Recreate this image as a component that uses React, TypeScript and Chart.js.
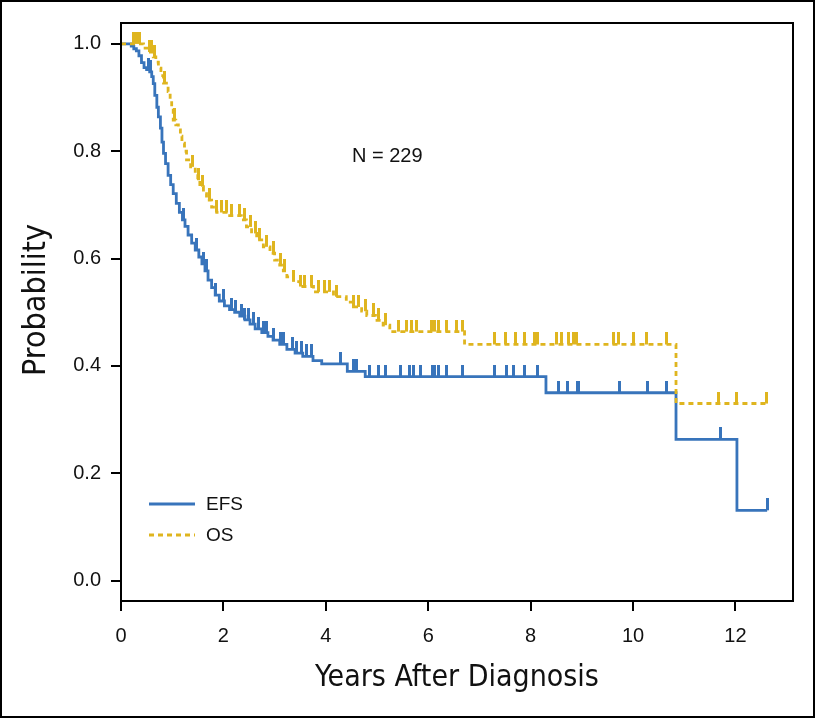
import React, { useEffect, useRef } from "react";
import { Chart, registerables } from "chart.js";

Chart.register(...registerables);

// ---- data ----
const efsTimes = [0, 0.2, 0.25, 0.3, 0.35, 0.4, 0.45, 0.5, 0.56, 0.6, 0.63, 0.66, 0.7, 0.73, 0.77, 0.8, 0.83, 0.87, 0.92, 0.97, 1.02, 1.08, 1.14, 1.2, 1.25, 1.31, 1.38, 1.45, 1.52, 1.58, 1.64, 1.7, 1.77, 1.84, 1.92, 2.02, 2.12, 2.22, 2.32, 2.42, 2.52, 2.62, 2.75, 2.87, 2.97, 3.1, 3.24, 3.4, 3.55, 3.75, 3.92, 4.42, 4.77, 8.3, 10.84, 12.03, 12.62];
const efsSurv = [1.0, 0.996, 0.991, 0.987, 0.978, 0.965, 0.956, 0.952, 0.948, 0.939, 0.926, 0.904, 0.882, 0.864, 0.843, 0.817, 0.796, 0.777, 0.755, 0.738, 0.721, 0.703, 0.686, 0.672, 0.66, 0.644, 0.629, 0.616, 0.603, 0.59, 0.577, 0.56, 0.546, 0.532, 0.521, 0.512, 0.505, 0.5, 0.493, 0.486, 0.478, 0.469, 0.462, 0.455, 0.448, 0.44, 0.431, 0.424, 0.418, 0.41, 0.404, 0.39, 0.38, 0.35, 0.263, 0.131, 0.131];
const efsCensor = [0.53, 0.58, 1.22, 1.48, 1.61, 1.67, 1.84, 2.0, 2.16, 2.23, 2.36, 2.42, 2.49, 2.58, 2.68, 2.78, 2.85, 2.97, 3.11, 3.17, 3.35, 3.43, 3.53, 3.63, 3.72, 4.28, 4.54, 4.6, 4.86, 5.03, 5.16, 5.45, 5.64, 5.71, 5.84, 6.08, 6.13, 6.2, 6.36, 6.67, 7.3, 7.52, 7.66, 7.89, 8.13, 8.54, 8.72, 8.91, 8.93, 9.73, 10.29, 10.66, 11.71, 12.62];

const osTimes = [0, 0.44, 0.53, 0.63, 0.68, 0.73, 0.78, 0.83, 0.92, 0.96, 0.99, 1.02, 1.07, 1.12, 1.16, 1.19, 1.24, 1.28, 1.36, 1.45, 1.5, 1.54, 1.61, 1.67, 1.77, 1.87, 2.08, 2.35, 2.45, 2.55, 2.65, 2.78, 2.91, 3.0, 3.1, 3.17, 3.24, 3.37, 3.5, 3.76, 4.15, 4.4, 4.54, 4.7, 4.8, 4.97, 5.12, 5.25, 6.71, 10.84, 12.61];
const osSurv = [1.0, 0.992, 0.985, 0.976, 0.966, 0.955, 0.941, 0.927, 0.911, 0.897, 0.883, 0.858, 0.849, 0.84, 0.828, 0.815, 0.8, 0.784, 0.771, 0.759, 0.746, 0.734, 0.721, 0.709, 0.696, 0.686, 0.68, 0.672, 0.659, 0.647, 0.635, 0.622, 0.61, 0.597, 0.588, 0.577, 0.566, 0.557, 0.548, 0.538, 0.529, 0.519, 0.51, 0.502, 0.494, 0.485, 0.476, 0.464, 0.44, 0.33, 0.33];
const osCensor = [0.24, 0.31, 0.37, 0.55, 0.6, 0.66, 0.85, 1.05, 1.4, 1.52, 1.6, 1.72, 1.87, 1.97, 2.06, 2.16, 2.32, 2.42, 2.52, 2.62, 2.71, 2.85, 2.97, 3.11, 3.2, 3.37, 3.5, 3.59, 3.72, 3.85, 3.98, 4.08, 4.21, 4.54, 4.63, 4.77, 4.93, 5.03, 5.16, 5.42, 5.58, 5.68, 5.77, 6.07, 6.13, 6.2, 6.36, 6.56, 6.67, 7.3, 7.51, 7.7, 7.89, 8.07, 8.13, 8.51, 8.61, 8.74, 8.83, 8.9, 9.62, 9.71, 10.01, 10.27, 10.66, 11.67, 12.02, 12.61];

const xTicks = [0, 2, 4, 6, 8, 10, 12];
const yTicks = [0, 0.2, 0.4, 0.6, 0.8, 1.0];
const seriesLabels = ["EFS", "OS"];
const xTitle = "Years After Diagnosis";
const yTitle = "Probability";
const noteText = "N = 229";

// ---- styles ----
const BLUE = "#3874bb";
const GOLD = "#dfb51f";
const INK = "#111111";
const SANS = "'Liberation Sans', Arial, Helvetica, sans-serif";
const NARROW = "'Liberation Sans Narrow', 'DejaVu Sans Condensed', 'Liberation Sans', sans-serif";

function survAt(times: number[], surv: number[], t: number): number {
  let s = surv[0];
  for (let i = 0; i < times.length; i++) {
    if (times[i] <= t) s = surv[i];
    else break;
  }
  return s;
}

function makeTick(color: string): HTMLCanvasElement {
  const c = document.createElement("canvas");
  c.width = 3;
  c.height = 24;
  const g = c.getContext("2d")!;
  g.fillStyle = color;
  g.fillRect(0, 0, 3, 12);
  return c;
}

export default function App() {
  const ref = useRef<HTMLCanvasElement | null>(null);

  useEffect(() => {
    document.body.style.margin = "0";
    const canvas = ref.current!;
    const tickBlue = makeTick(BLUE);
    const tickGold = makeTick(GOLD);

    const decor = {
      id: "decor",
      beforeDraw(chart: any) {
        const ctx = chart.ctx;
        ctx.save();
        ctx.fillStyle = "#ffffff";
        ctx.fillRect(0, 0, chart.width, chart.height);
        ctx.strokeStyle = "#000";
        ctx.lineWidth = 2;
        ctx.strokeRect(1, 1, chart.width - 2, chart.height - 2);
        ctx.restore();
      },
      afterDraw(chart: any) {
        const ctx = chart.ctx;
        const a = chart.chartArea;
        const xs = chart.scales.x;
        const ys = chart.scales.y;
        ctx.save();
        // plot frame
        ctx.strokeStyle = "#000";
        ctx.lineWidth = 2;
        ctx.strokeRect(a.left, a.top, a.right - a.left, a.bottom - a.top);
        // y title
        ctx.fillStyle = INK;
        ctx.font = `32px ${NARROW}`;
        ctx.textAlign = "center";
        ctx.textBaseline = "middle";
        ctx.save();
        ctx.translate(37, (a.top + a.bottom) / 2 - 12);
        ctx.rotate(-Math.PI / 2);
        ctx.fillText(yTitle, 0, 0);
        ctx.restore();
        // N label
        ctx.font = `20px ${SANS}`;
        ctx.fillText(noteText, xs.getPixelForValue(5.2), ys.getPixelForValue(0.79));
        // legend
        const lx0 = a.left + 28;
        const lx1 = a.left + 74;
        const ly = [a.top + 481, a.top + 512];
        const cols = [BLUE, GOLD];
        ctx.textAlign = "left";
        ctx.font = `19px ${SANS}`;
        for (let i = 0; i < 2; i++) {
          ctx.strokeStyle = cols[i];
          ctx.lineWidth = 2.8;
          ctx.setLineDash(i === 1 ? [5, 4] : []);
          ctx.beginPath();
          ctx.moveTo(lx0, ly[i]);
          ctx.lineTo(lx1, ly[i]);
          ctx.stroke();
          ctx.setLineDash([]);
          ctx.fillStyle = INK;
          ctx.fillText(seriesLabels[i], a.left + 85, ly[i] + 1);
        }
        ctx.restore();
      },
    };

    const chart = new Chart(canvas, {
      type: "line",
      data: {
        datasets: [
          {
            label: seriesLabels[0],
            data: efsTimes.map((t, i) => ({ x: t, y: efsSurv[i] })),
            borderColor: BLUE,
            borderWidth: 2.8,
            stepped: true,
            pointRadius: 0,
            fill: false,
            order: 4,
          },
          {
            label: seriesLabels[1],
            data: osTimes.map((t, i) => ({ x: t, y: osSurv[i] })),
            borderColor: GOLD,
            borderWidth: 2.8,
            borderDash: [5, 4],
            stepped: true,
            pointRadius: 0,
            fill: false,
            order: 3,
          },
          {
            label: seriesLabels[0] + " censored",
            type: "scatter",
            data: efsCensor.map((t) => ({ x: t, y: survAt(efsTimes, efsSurv, t) })),
            pointStyle: tickBlue,
            pointRadius: 3,
            showLine: false,
            order: 2,
          },
          {
            label: seriesLabels[1] + " censored",
            type: "scatter",
            data: osCensor.map((t) => ({ x: t, y: survAt(osTimes, osSurv, t) })),
            pointStyle: tickGold,
            pointRadius: 3,
            showLine: false,
            order: 1,
          },
        ] as any,
      },
      options: {
        responsive: false,
        animation: false,
        layout: { padding: { top: 23, right: 22, bottom: 0, left: 0 } },
        plugins: { legend: { display: false }, tooltip: { enabled: false } },
        scales: {
          x: {
            type: "linear",
            min: 0,
            max: 13.125,
            afterBuildTicks: (s: any) => {
              s.ticks = xTicks.map((v) => ({ value: v }));
            },
            afterFit: (s: any) => {
              s.height = 117;
            },
            grid: { display: true, drawOnChartArea: false, drawTicks: true, tickLength: 10, color: "#000", lineWidth: 2 },
            border: { display: false },
            ticks: {
              color: INK,
              font: { family: SANS, size: 20 },
              padding: 13,
              maxRotation: 0,
              autoSkip: false,
              callback: (v: any) => String(v),
            },
            title: {
              display: true,
              text: xTitle,
              color: INK,
              font: { family: NARROW, size: 30 },
              padding: { top: 0, bottom: 22 },
            },
          },
          y: {
            type: "linear",
            min: -0.038,
            max: 1.039,
            afterBuildTicks: (s: any) => {
              s.ticks = yTicks.map((v) => ({ value: v }));
            },
            afterFit: (s: any) => {
              s.width = 121;
            },
            grid: { display: true, drawOnChartArea: false, drawTicks: true, tickLength: 10, color: "#000", lineWidth: 2 },
            border: { display: false },
            ticks: {
              color: INK,
              font: { family: SANS, size: 20 },
              padding: 10,
              autoSkip: false,
              callback: (v: any) => Number(v).toFixed(1),
            },
            title: { display: false },
          },
        },
      } as any,
      plugins: [decor],
    });

    return () => {
      chart.destroy();
    };
  }, []);

  return (
    <div style={{ width: 815, height: 718 }}>
      <canvas ref={ref} width={815} height={718} style={{ display: "block", width: 815, height: 718 }} />
    </div>
  );
}
